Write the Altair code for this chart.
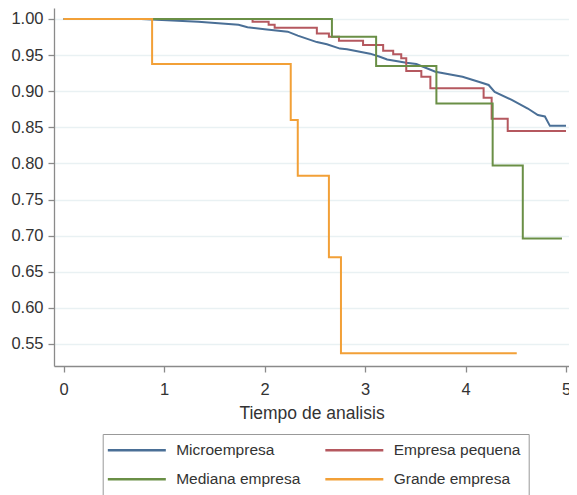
import altair as alt
import pandas as pd

FONT = "Liberation Sans, Arial, sans-serif"

groups = ["Microempresa", "Empresa pequena", "Mediana empresa", "Grande empresa"]
colors = ["#4a6f96", "#b5585f", "#6a8f46", "#f2a037"]

micro_t = [0, 0.77, 1.34, 1.74, 1.83, 2.0, 2.23, 2.33, 2.52, 2.62, 2.75, 2.82, 3.05, 3.14,
           3.22, 3.41, 3.51, 3.70, 3.97, 4.13, 4.23, 4.29, 4.46, 4.62, 4.72, 4.79, 4.84, 5.0]
micro_s = [1.0, 1.0, 0.996, 0.992, 0.9885, 0.9857, 0.9824, 0.977, 0.968, 0.965, 0.959, 0.958,
           0.952, 0.948, 0.944, 0.9395, 0.9377, 0.927, 0.920, 0.913, 0.9086, 0.899, 0.888,
           0.876, 0.867, 0.865, 0.852, 0.852]

peq_t = [0, 1.88, 2.04, 2.10, 2.52, 2.64, 2.74, 2.98, 3.18, 3.28, 3.36, 3.41, 3.56, 3.65,
         4.18, 4.26, 4.42, 5.0]
peq_s = [1.0, 0.996, 0.992, 0.988, 0.980, 0.9755, 0.970, 0.964, 0.956, 0.951, 0.9456, 0.928,
         0.920, 0.904, 0.891, 0.862, 0.845, 0.845]

med_t = [0, 2.67, 3.11, 3.71, 4.27, 4.57, 4.96]
med_s = [1.0, 0.9755, 0.935, 0.883, 0.797, 0.696, 0.696]

gra_t = [0, 0.88, 2.26, 2.33, 2.64, 2.76, 4.51]
gra_s = [1.0, 0.9375, 0.860, 0.783, 0.670, 0.537, 0.537]

x_ticks = [0, 1, 2, 3, 4, 5]
y_ticks = [0.55, 0.60, 0.65, 0.70, 0.75, 0.80, 0.85, 0.90, 0.95, 1.00]

micro_df = pd.DataFrame({"g": groups[0], "t": micro_t, "s": micro_s})
step_df = pd.concat([
    pd.DataFrame({"g": groups[1], "t": peq_t, "s": peq_s}),
    pd.DataFrame({"g": groups[2], "t": med_t, "s": med_s}),
    pd.DataFrame({"g": groups[3], "t": gra_t, "s": gra_s}),
], ignore_index=True)

xenc = alt.X("t:Q", scale=alt.Scale(domain=[-0.0966, 5.030], nice=False, zero=False),
             axis=alt.Axis(values=x_ticks, format="d", grid=False, tickSize=6,
                           labelPadding=9, title="Tiempo de analisis",
                           titleBaseline="alphabetic", titleY=52, titleFontSize=17.5,
                           titleFontWeight="normal"))
yenc = alt.Y("s:Q", scale=alt.Scale(domain=[0.5195, 1.0152], nice=False, zero=False),
             axis=alt.Axis(values=y_ticks, format=".2f", grid=True, tickSize=6,
                           labelPadding=5),
             title=None)
cenc = alt.Color("g:N", scale=alt.Scale(domain=groups, range=colors),
                 legend=alt.Legend(title=None, orient="none", legendX=48.7, legendY=426,
                                   direction="horizontal", columns=2, columnPadding=19.5,
                                   rowPadding=12.5, padding=8, strokeColor="#999999",
                                   symbolType="M-1,0H15", symbolSize=52.56,
                                   symbolStrokeWidth=2.5, symbolOffset=-7, labelOffset=57,
                                   labelFontSize=15.5, labelFont=FONT, labelColor="#333333",
                                   labelLimit=400))

micro = alt.Chart(micro_df).mark_line(strokeWidth=2, interpolate="linear").encode(
    x=xenc, y=yenc, color=cenc, detail="g:N")
steps = alt.Chart(step_df).mark_line(strokeWidth=2, interpolate="step-after").encode(
    x=xenc, y=yenc, color=cenc, detail="g:N", order="t:Q")

chart = alt.layer(micro, steps).properties(
    width=515, height=358,
    padding={"left": 46, "top": 0, "right": 0, "bottom": 130},
    autosize=alt.AutoSizeParams(type="none"),
    background="white",
).configure_view(stroke=None).configure_axis(
    labelFont=FONT, titleFont=FONT, labelFontSize=16.5, labelColor="#333333",
    titleColor="#333333", domainColor="#8a8a8a", tickColor="#8a8a8a",
    domainWidth=1.3, tickWidth=1.3, gridColor="#e9f1f3", gridWidth=1.5,
)

chart.save("out.html", embed_options={"renderer": "svg", "actions": False})
